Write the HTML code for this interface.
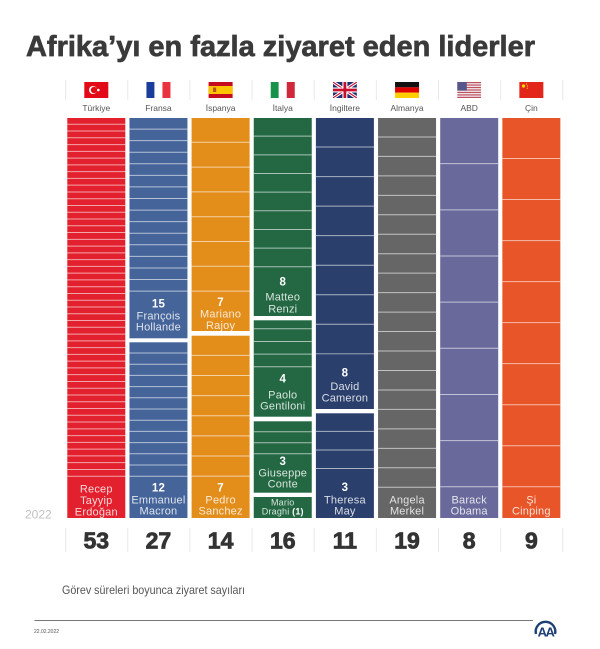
<!DOCTYPE html>
<html><head><meta charset="utf-8"><style>
html,body{margin:0;padding:0;background:#fff;}
svg{display:block;font-family:"Liberation Sans",Arial,sans-serif;}
</style></head><body>
<svg width="600" height="649" viewBox="0 0 600 649" xmlns="http://www.w3.org/2000/svg">
<rect width="600" height="649" fill="#fff"/>
<text x="26" y="56" font-size="29" font-weight="bold" fill="#3a3a3a" stroke="#3a3a3a" stroke-width="0.7" textLength="509" lengthAdjust="spacingAndGlyphs">Afrika’yı en fazla ziyaret eden liderler</text>

<!-- separators -->
<g stroke="#e8e8e8" stroke-width="1">
<path d="M65.6 80V100M127.75 80V100M189.9 80V100M252.05 80V100M314.2 80V100M376.35 80V100M438.5 80V100M500.65 80V100M562.8 80V100"/>
<path d="M65.6 528V552M127.75 528V552M189.9 528V552M252.05 528V552M314.2 528V552M376.35 528V552M438.5 528V552M500.65 528V552M562.8 528V552"/>
</g>

<!-- flags -->
<g>
<rect x="84.3" y="82" width="24" height="16" fill="#e30a17"/>
<circle cx="93" cy="90" r="4" fill="#fff"/>
<circle cx="94" cy="90" r="3.2" fill="#e30a17"/>
<circle cx="98.3" cy="90" r="1.3" fill="#fff"/>
<rect x="146.45" y="82" width="8" height="16" fill="#1a3d9c"/>
<rect x="154.45" y="82" width="8" height="16" fill="#fff"/>
<rect x="162.45" y="82" width="8" height="16" fill="#ea3340"/>
<rect x="208.6" y="82" width="24" height="16" fill="#c60b1e"/>
<rect x="208.6" y="86" width="24" height="8" fill="#ffc400"/>
<rect x="213" y="87.5" width="3.2" height="4.5" fill="#b5561e"/>
<rect x="270.75" y="82" width="8" height="16" fill="#16924b"/>
<rect x="278.75" y="82" width="8" height="16" fill="#fff"/>
<rect x="286.75" y="82" width="8" height="16" fill="#d0283a"/>
<svg x="332.9" y="82" width="24" height="16" viewBox="0 0 24 16">
<rect width="24" height="16" fill="#1f2f6e"/>
<path d="M0 0L24 16M24 0L0 16" stroke="#fff" stroke-width="3.2"/>
<path d="M0 0L24 16M24 0L0 16" stroke="#c8102e" stroke-width="1.1"/>
<path d="M12 0V16M0 8H24" stroke="#fff" stroke-width="5"/>
<path d="M12 0V16M0 8H24" stroke="#c8102e" stroke-width="2.8"/>
</svg>
<rect x="395.05" y="82" width="24" height="5.34" fill="#111"/>
<rect x="395.05" y="87.33" width="24" height="5.34" fill="#dd0000"/>
<rect x="395.05" y="92.66" width="24" height="5.34" fill="#ffce00"/>
<svg x="457.2" y="82" width="24" height="16" viewBox="0 0 24 16">
<rect width="24" height="16" fill="#f2f2f2"/>
<g fill="#c0505f">
<rect y="0" width="24" height="1.23"/><rect y="2.46" width="24" height="1.23"/><rect y="4.92" width="24" height="1.23"/><rect y="7.38" width="24" height="1.23"/><rect y="9.85" width="24" height="1.23"/><rect y="12.31" width="24" height="1.23"/><rect y="14.77" width="24" height="1.23"/>
</g>
<rect width="9.6" height="8.6" fill="#55578a"/>
</svg>
<rect x="519.35" y="82" width="24" height="16" fill="#e3261a"/>
<circle cx="523.5" cy="86" r="1.6" fill="#ffde00"/>
<circle cx="526.5" cy="84" r="0.6" fill="#ffde00"/>
<circle cx="527.5" cy="86" r="0.6" fill="#ffde00"/>
<circle cx="527.3" cy="88.2" r="0.6" fill="#ffde00"/>
</g>

<g font-size="8.5" fill="#555" text-anchor="middle">
<text x="96.3" y="111">Türkiye</text>
<text x="158.45" y="111">Fransa</text>
<text x="220.6" y="111">İspanya</text>
<text x="282.75" y="111">İtalya</text>
<text x="344.9" y="111">İngiltere</text>
<text x="407.05" y="111">Almanya</text>
<text x="469.2" y="111">ABD</text>
<text x="531.35" y="111">Çin</text>
</g>

<!-- columns -->
<rect x="67.3" y="118" width="58" height="400" fill="#e3202d"/>
<rect x="129.45" y="118" width="58" height="220.3" fill="#45649a"/>
<rect x="129.45" y="342.3" width="58" height="175.7" fill="#45649a"/>
<rect x="191.6" y="118" width="58" height="213" fill="#e38d1b"/>
<rect x="191.6" y="335.7" width="58" height="182.3" fill="#e38d1b"/>
<rect x="253.75" y="118" width="58" height="198" fill="#236843"/>
<rect x="253.75" y="320.3" width="58" height="96.4" fill="#236843"/>
<rect x="253.75" y="421.3" width="58" height="71.4" fill="#236843"/>
<rect x="253.75" y="497" width="58" height="21" fill="#236843"/>
<rect x="315.9" y="118" width="58" height="291" fill="#2b3f6c"/>
<rect x="315.9" y="413.3" width="58" height="104.7" fill="#2b3f6c"/>
<rect x="378.05" y="118" width="58" height="400" fill="#666666"/>
<rect x="440.2" y="118" width="58" height="400" fill="#696a9b"/>
<rect x="502.35" y="118" width="58" height="400" fill="#e75528"/>

<g stroke="#fff" stroke-opacity="0.6" stroke-width="58" fill="none">
<path d="M96.3 123.77V476.7" stroke-dasharray="1 5.768"/>
<path d="M158.45 128.57V291.6" stroke-dasharray="1 10.573"/>
<path d="M158.45 352.5V476.7" stroke-dasharray="1 10.2"/>
<path d="M220.6 141.8V291.6" stroke-dasharray="1 23.8"/>
<path d="M220.6 354.84V476.7" stroke-dasharray="1 19.14"/>
<path d="M282.75 135.66V267.3" stroke-dasharray="1 17.66"/>
<path d="M282.75 328.3V367.3" stroke-dasharray="1 11.67"/>
<path d="M282.75 431.3V454.3" stroke-dasharray="1 10"/>
<path d="M344.9 146.54V354.3" stroke-dasharray="1 28.54"/>
<path d="M344.9 430.87V469" stroke-dasharray="1 17.57"/>
<path d="M407.05 136.46V487.7" stroke-dasharray="1 18.46"/>
<path d="M469.2 163.16V487.3" stroke-dasharray="1 45.16"/>
<path d="M531.35 158.03V487.3" stroke-dasharray="1 40.03"/>
</g>

<!-- labels -->
<g font-size="11" fill="#fff" text-anchor="middle" letter-spacing="0.2">
<g fill-opacity="0.82">
<text x="96.3" y="492.7">Recep</text><text x="96.3" y="504.2">Tayyip</text><text x="96.3" y="515.7">Erdoğan</text>
<text x="158.45" y="319.3">François</text><text x="158.45" y="330.7">Hollande</text>
<text x="158.45" y="503.3">Emmanuel</text><text x="158.45" y="514.7">Macron</text>
<text x="220.6" y="317.5">Mariano</text><text x="220.6" y="328.8">Rajoy</text>
<text x="220.6" y="503.3">Pedro</text><text x="220.6" y="514.7">Sanchez</text>
<text x="282.75" y="300.7">Matteo</text><text x="282.75" y="312.3">Renzi</text>
<text x="282.75" y="398.3">Paolo</text><text x="282.75" y="409.5">Gentiloni</text>
<text x="282.75" y="476.7">Giuseppe</text><text x="282.75" y="487.7">Conte</text>
<text x="282.75" y="505.3" font-size="9">Mario</text>
<text x="282.75" y="514.3" font-size="9">Draghi <tspan font-weight="bold" fill-opacity="1">(1)</tspan></text>
<text x="344.9" y="390">David</text><text x="344.9" y="401.3">Cameron</text>
<text x="344.9" y="503.3">Theresa</text><text x="344.9" y="514.7">May</text>
<text x="407.05" y="503.3">Angela</text><text x="407.05" y="514.7">Merkel</text>
<text x="469.2" y="503.3">Barack</text><text x="469.2" y="514.7">Obama</text>
<text x="531.35" y="503.3">Şi</text><text x="531.35" y="514.7">Cinping</text>
</g>
<g font-weight="bold" font-size="11.5">
<text x="158.45" y="307.3">15</text>
<text x="158.45" y="491.7">12</text>
<text x="220.6" y="306">7</text>
<text x="220.6" y="491.7">7</text>
<text x="282.75" y="285.7">8</text>
<text x="282.75" y="382.7">4</text>
<text x="282.75" y="465">3</text>
<text x="344.9" y="376.7">8</text>
<text x="344.9" y="491">3</text>
</g>
</g>

<text x="25" y="518.3" font-size="12" fill="#c0c0c0">2022</text>

<g font-size="23" font-weight="bold" fill="#333" stroke="#333" stroke-width="0.8" text-anchor="middle">
<text x="96.3" y="548.3">53</text>
<text x="158.45" y="548.3">27</text>
<text x="220.6" y="548.3">14</text>
<text x="282.75" y="548.3">16</text>
<text x="344.9" y="548.3">11</text>
<text x="407.05" y="548.3">19</text>
<text x="469.2" y="548.3">8</text>
<text x="531.35" y="548.3">9</text>
</g>

<text x="62" y="594" font-size="12" fill="#555" textLength="183" lengthAdjust="spacingAndGlyphs">Görev süreleri boyunca ziyaret sayıları</text>
<line x1="34.4" y1="620.5" x2="533" y2="620.5" stroke="#777" stroke-width="1"/>
<text x="34" y="633" font-size="5" fill="#555">22.02.2022</text>
<path d="M536 634 A9.8 9.8 0 1 1 555 634" stroke="#1d3f74" stroke-width="2.4" fill="none"/>
<text x="545.5" y="636.5" font-size="13" font-weight="bold" text-anchor="middle" fill="#1d3f74" letter-spacing="-1.5">AA</text>
</svg>
</body></html>
